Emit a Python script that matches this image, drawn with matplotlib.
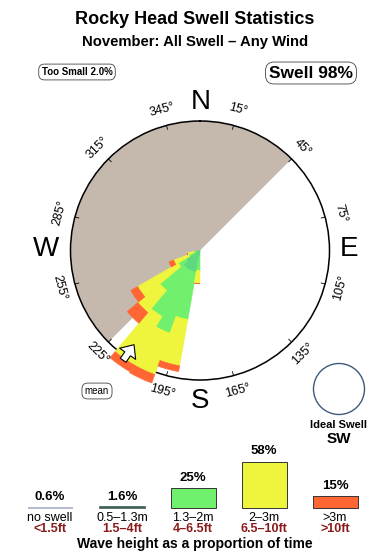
import numpy as np
import matplotlib
matplotlib.use('Agg')
import matplotlib.pyplot as plt
from matplotlib.patches import Circle

plt.rcParams['font.family'] = ['Liberation Sans', 'DejaVu Sans']

# swell rose, 10 degree direction bins, band lengths stacked outwards
directions = [185, 195, 205, 215, 225, 235, 245, 255]
small_swell = [6, 22, 22, 22, 22, 16, 6, 4]     # 0.5-1.3m
mid_swell = [14, 48, 66, 54, 30, 9, 6, 2]       # 1.3-2m
big_swell = [13, 47, 44, 56, 29, 47, 16, 7]     # 2-3m
huge_swell = [0, 6, 9, 8, 14, 8, 5, 0]          # >3m
band_colors = ['#5cd97f', '#70f06c', '#eef53c', '#ff6633']

shadow_from, shadow_to = 225, 45   # directions blocked by land
mean_dir = 215
tick_dirs = [15, 45, 75, 105, 135, 165, 195, 225, 255, 285, 315, 345]

# wave height legend
legend_pct = [0.6, 1.6, 25, 58, 15]
legend_m = ['no swell', '0.5\u20131.3m', '1.3\u20132m', '2\u20133m', '>3m']
legend_ft = ['<1.5ft', '1.5\u20134ft', '4\u20136.5ft', '6.5\u201310ft', '>10ft']
legend_colors = ['#a9b0c6', '#3d5e50', '#70f06c', '#eef53c', '#ff6633']
legend_x = [50, 122, 193, 264, 335]

W, H = 390, 560
fig = plt.figure(figsize=(W / 100, H / 100), dpi=100)

bg = fig.add_axes([0, 0, 1, 1])
bg.set_xlim(0, W)
bg.set_ylim(H, 0)
bg.axis('off')

# titles and boxes
bg.text(195, 19, 'Rocky Head Swell Statistics', ha='center', va='center',
        fontsize=13, fontweight='bold')
bg.text(195, 42, 'November: All Swell \u2013 Any Wind', ha='center', va='center',
        fontsize=10.7, fontweight='bold')
bg.text(77, 72, 'Too Small 2.0%', ha='center', va='center', fontsize=7, fontweight='bold',
        bbox=dict(boxstyle='round,pad=0.3,rounding_size=0.6', fc='white', ec='#444444', lw=0.6))
bg.text(311, 73, 'Swell 98%', ha='center', va='center', fontsize=12.5, fontweight='bold',
        bbox=dict(boxstyle='round,pad=0.2,rounding_size=0.5', fc='white', ec='#444444', lw=0.6))
bg.text(97, 391, 'mean', ha='center', va='center', fontsize=7,
        bbox=dict(boxstyle='round,pad=0.3,rounding_size=0.6', fc='white', ec='#444444', lw=0.6))

# compass letters
for lab, x, y in [('N', 201, 102), ('E', 349, 249), ('S', 200, 401), ('W', 46, 249)]:
    bg.text(x, y, lab, ha='center', va='center', fontsize=20)

# ideal swell marker
bg.add_patch(Circle((339, 389), 25.5, fill=False, ec='#3d5a7a', lw=1))
bg.text(339, 425, 'Ideal Swell', ha='center', va='center', fontsize=8, fontweight='bold')
bg.text(339, 439, 'SW', ha='center', va='center', fontsize=11, fontweight='bold')

# rose
R = 129.5
cx, cy = 200, 250.5
ax = fig.add_axes([(cx - R) / W, (H - cy - R) / H, 2 * R / W, 2 * R / H], projection='polar')
ax.set_theta_zero_location('N')
ax.set_theta_direction(-1)
ax.set_ylim(0, R)
ax.patch.set_alpha(0)
ax.grid(False)
ax.set_xticks([])
ax.set_yticks([])
ax.spines['polar'].set_linewidth(1.1)

span = (shadow_to - shadow_from) % 360
ax.bar(np.deg2rad(shadow_from + span / 2), R, width=np.deg2rad(span),
       color='#c5b9ad', linewidth=0, zorder=1)

bottom = np.zeros(len(directions))
for vals, col in zip([small_swell, mid_swell, big_swell, huge_swell], band_colors):
    ax.bar(np.deg2rad(directions), vals, width=np.deg2rad(10), bottom=bottom,
           color=col, edgecolor=col, linewidth=0.4, clip_on=False, zorder=3)
    bottom += np.array(vals)

ax.annotate('', xy=(np.deg2rad(mean_dir), 115), xytext=(np.deg2rad(mean_dir), 134),
            arrowprops=dict(arrowstyle='simple,head_length=0.8,head_width=1.4,tail_width=0.5',
                            fc='white', ec='black', lw=0.8, mutation_scale=10,
                            shrinkA=0, shrinkB=0),
            annotation_clip=False, zorder=5)

for d in tick_dirs:
    t = np.deg2rad(d)
    ax.plot([t, t], [R - 4, R], color='black', lw=0.6, zorder=4)
    rot = 180 - d if 90 < d < 270 else -d
    ax.text(t, R + 16, f'{d}\u00b0', rotation=rot, ha='center', va='center',
            fontsize=9, rotation_mode='anchor')

# legend bars: 0.8 px per percent above a baseline at y=508
leg = fig.add_axes([0, (H - 508) / H, 1, 48 / H])
leg.set_xlim(0, W)
leg.set_ylim(0, 60)
leg.axis('off')
for i, (x, p, c) in enumerate(zip(legend_x, legend_pct, legend_colors)):
    if i < 2:
        leg.bar(x, p, width=45, color=c, edgecolor=c, lw=1.2, clip_on=False)
    else:
        leg.bar(x, p, width=45, color=c, edgecolor='#333333', lw=0.7, clip_on=False)
    leg.annotate(f'{p:g}%', (x, p), xytext=(0, 3), textcoords='offset points',
                 ha='center', va='bottom', fontsize=9.5, fontweight='bold',
                 annotation_clip=False)
    bg.text(x, 518, legend_m[i], ha='center', va='center', fontsize=9)
    bg.text(x, 529, legend_ft[i], ha='center', va='center', fontsize=9,
            fontweight='bold', color='#8b1a1a')

bg.text(195, 544, 'Wave height as a proportion of time', ha='center', va='center',
        fontsize=10, fontweight='bold')

fig.savefig('out.png', dpi=100)
